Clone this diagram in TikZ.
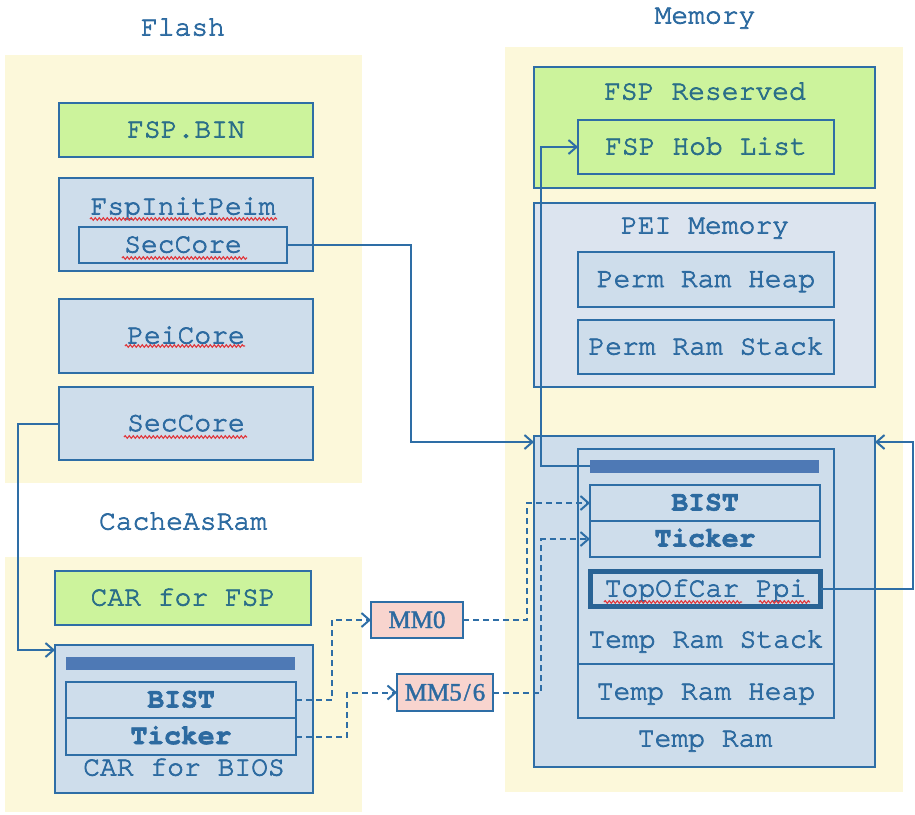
\documentclass[tikz,border=0pt]{standalone}
\usepackage{fontspec}
\setmainfont{TeX Gyre Cursor}[FakeBold=2.6,BoldFont={TeX Gyre Cursor Bold},BoldFeatures={FakeBold=2.4}]
\newfontfamily\serifmm{Liberation Serif}[FakeBold=1.5]
\usetikzlibrary{arrows.meta,decorations.pathmorphing,calc}
\definecolor{bgy}{HTML}{FCF8DA}
\definecolor{grn}{HTML}{CCF39C}
\definecolor{blu}{HTML}{CEDDEB}
\definecolor{peib}{HTML}{DCE4EF}
\definecolor{pnk}{HTML}{F8D4CE}
\definecolor{barc}{HTML}{4E79B5}
\definecolor{brd}{HTML}{2E6EA6}
\definecolor{txt}{HTML}{2C6AA0}
\definecolor{gtxt}{HTML}{2A6E88}
\definecolor{sq}{HTML}{E0393E}
\begin{document}
\begin{tikzpicture}[x=1pt,y=-1pt,
  bx/.style={draw=brd,line width=2.2pt,inner sep=0pt,outer sep=0pt,rectangle},
  bg/.style={fill=bgy,draw=none,inner sep=0pt,outer sep=0pt,rectangle},
  lbl/.style={text=txt,inner sep=0pt,font=\fontsize{28}{32}\selectfont,text height=17pt,text depth=0pt},
  blbl/.style={lbl,font=\fontsize{28}{32}\selectfont\bfseries},
  glbl/.style={lbl,text=gtxt},
  mlbl/.style={text=txt,inner sep=0pt,font=\serifmm\fontsize{25}{28}\selectfont,text height=16pt,text depth=0pt},
  conn/.style={draw=brd,line width=2pt,-{Straight Barb[length=8pt,width=14pt,line width=2pt]}},
  dconn/.style={conn,dash pattern=on 6pt off 4pt},
  squig/.style={draw=sq,line width=1.1pt,decorate,decoration={snake,segment length=4pt,amplitude=1.3pt}}
]
\useasboundingbox (0,0) rectangle (915,814);
% backgrounds
\node[bg,minimum width=357,minimum height=428] (flashbg) at (183.5,269) {};
\node[bg,minimum width=357,minimum height=255] (carbg) at (183.5,684.5) {};
\node[bg,minimum width=398,minimum height=745] (membg) at (704,419.5) {};
% titles
\node[lbl] (tflash) at (183,27) {Flash};
\node[lbl] (tcar) at (183,521) {CacheAsRam};
\node[lbl] (tmem) at (705,15) {Memory};
% flash boxes
\node[bx,fill=grn,minimum width=254,minimum height=54] (fspbin) at (186,130) {};
\node[glbl] at ([yshift=1pt]fspbin) {FSP.BIN};
\node[bx,fill=blu,minimum width=254,minimum height=93] (fip) at (186,224.5) {};
\node[lbl] (fiptxt) at (183,206) {FspInitPeim};
\node[bx,fill=blu,minimum width=208,minimum height=36] (sc1) at (183,245) {};
\node[lbl] at ([yshift=1pt]sc1) {SecCore};
\node[bx,fill=blu,minimum width=254,minimum height=74] (pei) at (186,336) {};
\node[lbl] at ([yshift=1pt]pei) {PeiCore};
\node[bx,fill=blu,minimum width=254,minimum height=73] (sc2) at (186,423.5) {};
\node[lbl] at ([yshift=1pt]sc2) {SecCore};
% CAR boxes
\node[bx,fill=grn,minimum width=256,minimum height=54] (carfsp) at (183,598) {};
\node[glbl] at ([yshift=1pt]carfsp) {CAR for FSP};
\node[bx,fill=blu,minimum width=258,minimum height=148] (carbios) at (184,719) {};
\node[bx,fill=barc,draw=none,minimum width=229,minimum height=13] (bar1) at (180.5,663) {};
\node[bx,fill=blu,minimum width=230,minimum height=36] (bist1) at (181,700) {};
\node[blbl] at ([yshift=1pt]bist1) {BIST};
\node[bx,fill=blu,minimum width=230,minimum height=37] (tick1) at (181,736.5) {};
\node[blbl] at ([yshift=1pt]tick1) {Ticker};
\node[lbl] (cbtxt) at (184,767) {CAR for BIOS};
% MM boxes
\node[bx,fill=pnk,minimum width=92,minimum height=36] (mm0) at (417,620) {};
\node[mlbl] at (mm0) {MM0};
\node[bx,fill=pnk,minimum width=96,minimum height=37] (mm5) at (445,692.5) {};
\node[mlbl] at (mm5) {MM5\kern2pt/\kern2pt6};
% memory boxes
\node[bx,fill=grn,minimum width=341,minimum height=121] (fsprsv) at (704.5,127.5) {};
\node[glbl] at (705,91) {FSP Reserved};
\node[bx,fill=grn,minimum width=256,minimum height=54] (hob) at (706,147) {};
\node[glbl] at ([yshift=1pt]hob) {FSP Hob List};
\node[bx,fill=peib,minimum width=341,minimum height=184] (peimem) at (704.5,295) {};
\node[lbl] at (705,225) {PEI Memory};
\node[bx,fill=blu,minimum width=256,minimum height=55] (prh) at (706,279.5) {};
\node[lbl] at ([yshift=1pt]prh) {Perm Ram Heap};
\node[bx,fill=blu,minimum width=256,minimum height=54] (prs) at (706,347) {};
\node[lbl] at ([yshift=1pt]prs) {Perm Ram Stack};
\node[bx,fill=blu,minimum width=341,minimum height=331] (tr) at (704.5,601.5) {};
\node[bx,fill=blu,minimum width=256,minimum height=269] (tri) at (706,583.5) {};
\draw[draw=brd,line width=2.2pt] (tri.west |- 0,664) -- (tri.east |- 0,664);
\node[bx,fill=barc,draw=none,minimum width=229,minimum height=13] (bar2) at (704.5,466) {};
\node[bx,fill=blu,minimum width=230,minimum height=36] (bist2) at (705,503) {};
\node[blbl] at ([yshift=1pt]bist2) {BIST};
\node[bx,fill=blu,minimum width=230,minimum height=36] (tick2) at (705,539) {};
\node[blbl] at ([yshift=1pt]tick2) {Ticker};
\node[bx,fill=blu,line width=4.5pt,draw=brd!90!black,minimum width=230,minimum height=35] (top) at (705.5,589) {};
\node[lbl] at ([yshift=1pt]top) {TopOfCar Ppi};
\node[lbl] at (706,639) {Temp Ram Stack};
\node[lbl] at (706,691) {Temp Ram Heap};
\node[lbl] at (705,738) {Temp Ram};
% squiggles
\draw[squig] (90,219) -- (277,219);
\draw[squig] (122,258) -- (247,258);
\draw[squig] (125,346) -- (245,346);
\draw[squig] (124,437) -- (247,437);
\draw[squig] (604,602) -- (742,602);
\draw[squig] (759,602) -- (810,602);
% coordinates
\coordinate (trL) at ([yshift=-6pt]tr.north west);
\coordinate (trR) at ([yshift=-6pt]tr.north east);
\coordinate (carL) at ([yshift=-5pt]carbios.north west);
% connectors
\draw[conn] (sc1.east) -| ([xshift=-123pt]trL) -- (trL);
\draw[conn] (bar2.west) -| ([xshift=-37pt]hob.west) -- (hob.west);
\draw[conn] (top.east) -| ([xshift=38pt]trR) -- (trR);
\draw[conn] (sc2.west) -| ([xshift=-37pt]carL) -- (carL);
\draw[dconn] (bist1.east) -| ([xshift=-39pt]mm0.west) -- (mm0.west);
\draw[dconn] (tick1.east) -| ([xshift=-50pt]mm5.west) -- (mm5.west);
\draw[dconn] (mm0.east) -| ([xshift=-63pt]bist2.west) -- (bist2.west);
\draw[dconn] (mm5.east) -| ([xshift=-49pt]tick2.west) -- (tick2.west);
\end{tikzpicture}
\end{document}
